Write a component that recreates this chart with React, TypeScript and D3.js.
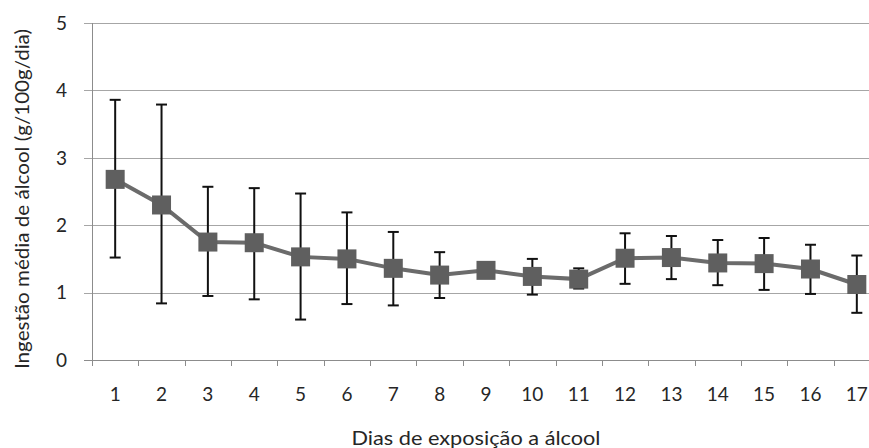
import { useEffect, useRef } from "react";
import * as d3 from "d3";

// ----- Data ---------------------------------------------------------------
const days = [1, 2, 3, 4, 5, 6, 7, 8, 9, 10, 11, 12, 13, 14, 15, 16, 17];
const meanIntake = [2.68, 2.30, 1.75, 1.74, 1.53, 1.50, 1.36, 1.26, 1.33, 1.24, 1.20, 1.51, 1.52, 1.44, 1.43, 1.35, 1.12];
const upperBar = [3.86, 3.79, 2.57, 2.55, 2.47, 2.19, 1.90, 1.60, 1.33, 1.50, 1.36, 1.88, 1.84, 1.78, 1.81, 1.71, 1.55];
const lowerBar = [1.52, 0.84, 0.95, 0.90, 0.60, 0.83, 0.81, 0.92, 1.33, 0.97, 1.06, 1.13, 1.20, 1.11, 1.04, 0.98, 0.70];
const yTicks = [0, 1, 2, 3, 4, 5];

const xTitle = "Dias de exposição a álcool";
const yTitle = "Ingestão média de álcool (g/100g/dia)";

const W = 869;
const H = 448;
const FONT = "Lato, 'Open Sans', sans-serif";
const INK = "#262626";

const App = () => {
  const svgRef = useRef<SVGSVGElement | null>(null);

  useEffect(() => {
    const svg = d3.select(svgRef.current);
    svg.selectAll("*").remove();

    // plot area runs a little past the right edge, as in the source image
    const left = 92;
    const right = 880;
    const top = 23;
    const bottom = 360;

    const x = d3.scaleBand<number>().domain(days).range([left, right]).padding(0);
    const y = d3.scaleLinear().domain([0, 5]).range([bottom, top]);
    const cx = (d: number) => (x(d) as number) + x.bandwidth() / 2;

    // ----- Gridlines --------------------------------------------------------
    svg.append("g")
      .selectAll("line")
      .data(yTicks.filter((t) => t > 0))
      .join("line")
      .attr("x1", left - 8)
      .attr("x2", right)
      .attr("y1", (d) => Math.round(y(d)) + 0.5)
      .attr("y2", (d) => Math.round(y(d)) + 0.5)
      .attr("stroke", "#a6a6a6")
      .attr("stroke-width", 1);

    // ----- Axes -------------------------------------------------------------
    svg.append("line")
      .attr("x1", left + 0.5).attr("x2", left + 0.5)
      .attr("y1", top).attr("y2", bottom)
      .attr("stroke", "#8c8c8c");

    svg.append("line")
      .attr("x1", left - 8).attr("x2", right)
      .attr("y1", bottom + 0.5).attr("y2", bottom + 0.5)
      .attr("stroke", "#8c8c8c");

    // x ticks on band boundaries
    svg.append("g")
      .selectAll("line")
      .data(days)
      .join("line")
      .attr("x1", (d) => Math.round(x(d) as number) + 0.5)
      .attr("x2", (d) => Math.round(x(d) as number) + 0.5)
      .attr("y1", bottom)
      .attr("y2", bottom + 6)
      .attr("stroke", "#8c8c8c");

    svg.append("g")
      .selectAll("text")
      .data(yTicks)
      .join("text")
      .attr("x", 67)
      .attr("y", (d) => y(d))
      .attr("dy", "0.36em")
      .attr("text-anchor", "end")
      .attr("font-family", FONT)
      .attr("font-size", 19)
      .attr("fill", INK)
      .text((d) => d);

    svg.append("g")
      .selectAll("text")
      .data(days)
      .join("text")
      .attr("x", (d) => cx(d))
      .attr("y", 394)
      .attr("dy", "0.36em")
      .attr("text-anchor", "middle")
      .attr("font-family", FONT)
      .attr("font-size", 19)
      .attr("fill", INK)
      .text((d) => d);

    // ----- Titles -----------------------------------------------------------
    svg.append("text")
      .attr("x", 476)
      .attr("y", 438)
      .attr("dy", "0.36em")
      .attr("text-anchor", "middle")
      .attr("font-family", FONT)
      .attr("font-size", 19)
      .attr("textLength", 249)
      .attr("lengthAdjust", "spacingAndGlyphs")
      .attr("fill", INK)
      .text(xTitle);

    svg.append("text")
      .attr("transform", `translate(22,199) rotate(-90)`)
      .attr("dy", "0.36em")
      .attr("text-anchor", "middle")
      .attr("font-family", FONT)
      .attr("font-size", 19)
      .attr("textLength", 340)
      .attr("lengthAdjust", "spacingAndGlyphs")
      .attr("fill", INK)
      .text(yTitle);

    // ----- Error bars -------------------------------------------------------
    const bars = svg.append("g").attr("stroke", "#111").attr("stroke-width", 2);
    days.forEach((d, i) => {
      if (upperBar[i] === lowerBar[i]) return;
      bars.append("line")
        .attr("x1", cx(d)).attr("x2", cx(d))
        .attr("y1", y(upperBar[i])).attr("y2", y(lowerBar[i]));
      [upperBar[i], lowerBar[i]].forEach((v) => {
        bars.append("line")
          .attr("x1", cx(d) - 5.5).attr("x2", cx(d) + 5.5)
          .attr("y1", y(v)).attr("y2", y(v));
      });
    });

    // ----- Line + markers ---------------------------------------------------
    const line = d3.line<number>()
      .x((_, i) => cx(days[i]))
      .y((v) => y(v));

    svg.append("path")
      .datum(meanIntake)
      .attr("fill", "none")
      .attr("stroke", "#6b6b6b")
      .attr("stroke-width", 4)
      .attr("d", line);

    const size = 19;
    svg.append("g")
      .selectAll("rect")
      .data(meanIntake)
      .join("rect")
      .attr("x", (_, i) => cx(days[i]) - size / 2)
      .attr("y", (v) => y(v) - size / 2)
      .attr("width", size)
      .attr("height", size)
      .attr("fill", "#5f5f5f");
  }, []);

  return (
    <svg
      ref={svgRef}
      width={W}
      height={H}
      style={{ position: "fixed", left: 0, top: 0, background: "#fff" }}
    />
  );
};

export default App;
